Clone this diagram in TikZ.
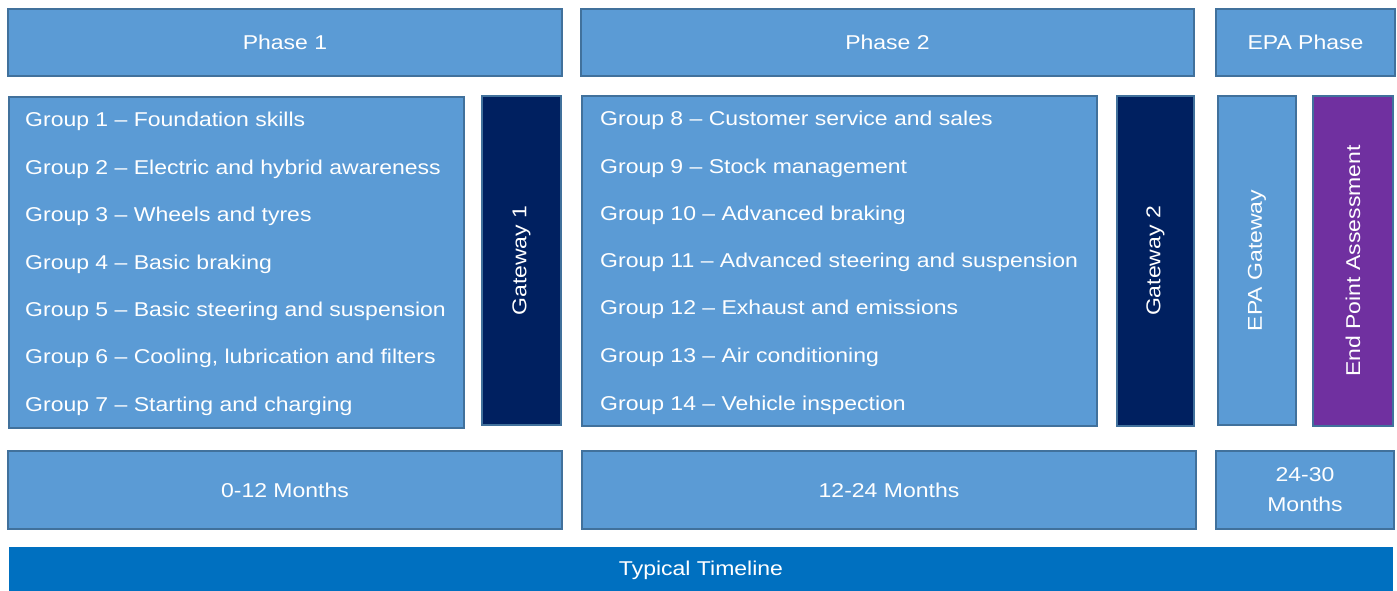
\documentclass[tikz,border=0pt]{standalone}
\usepackage{fontspec}
\setmainfont[FakeStretch=1.15]{Liberation Sans}
\definecolor{midblue}{HTML}{5B9BD5}
\definecolor{edgeblue}{HTML}{41719C}
\definecolor{navy}{HTML}{002060}
\definecolor{plum}{HTML}{7030A0}
\definecolor{strongblue}{HTML}{0070C0}
\begin{document}
\begin{tikzpicture}[x=1pt,y=-1pt,
  txt/.style={text=white, font=\fontsize{20}{26}\selectfont},
  panel/.style={draw=edgeblue, line width=1.2pt, fill=midblue, txt,
    inner sep=0pt, align=center},
  gate/.style={panel, fill=navy},
  assess/.style={panel, fill=plum},
  timeline/.style={panel, draw=none, fill=strongblue},
  upright/.style={txt, rotate=90, inner sep=0pt},
  item/.style={txt, anchor=base west, inner sep=0pt}]
\useasboundingbox (0,0) rectangle (1397,591);
\begin{scope}
\clip (0,0) rectangle (1397,591);
% header row
\node[panel, minimum width=554, minimum height=67] (ph1) at (285,42.5) {Phase 1};
\node[panel, minimum width=613, minimum height=67] (ph2) at (887.5,42.5) {Phase 2};
\node[panel, minimum width=179, minimum height=67] (ph3) at (1305.5,42.5) {EPA Phase};
% group lists and gateways
\node[panel, minimum width=455, minimum height=331] (grpA) at (236.5,262.5) {};
\node[gate, minimum width=79, minimum height=329] (gw1) at (521.5,260.5) {};
\node[upright] (gw1t) at (gw1.center) {Gateway 1};
\node[panel, minimum width=515, minimum height=330] (grpB) at (839.5,261) {};
\node[gate, minimum width=77, minimum height=330] (gw2) at (1155.5,261) {};
\node[upright] (gw2t) at (gw2.center) {Gateway 2};
\node[panel, minimum width=78, minimum height=329] (epag) at (1257,260.5) {};
\node[upright] (epagt) at (epag.center) {EPA Gateway};
\node[assess, minimum width=80, minimum height=330] (epa) at (1353,261) {};
\node[upright] (epat) at (epa.center) {End Point Assessment};
% phase 1 groups
\node[item] (g1) at (25,127) {Group 1 – Foundation skills};
\node[item] (g2) at (25,175) {Group 2 – Electric and hybrid awareness};
\node[item] (g3) at (25,221) {Group 3 – Wheels and tyres};
\node[item] (g4) at (25,269) {Group 4 – Basic braking};
\node[item] (g5) at (25,316) {Group 5 – Basic steering and suspension};
\node[item] (g6) at (25,363) {Group 6 – Cooling, lubrication and filters};
\node[item] (g7) at (25,411) {Group 7 – Starting and charging};
% phase 2 groups
\node[item] (g8) at (600,125) {Group 8 – Customer service and sales};
\node[item] (g9) at (600,173) {Group 9 – Stock management};
\node[item] (g10) at (600,220) {Group 10 – Advanced braking};
\node[item] (g11) at (600,267) {Group 11 – Advanced steering and suspension};
\node[item] (g12) at (600,314) {Group 12 – Exhaust and emissions};
\node[item] (g13) at (600,362) {Group 13 – Air conditioning};
\node[item] (g14) at (600,410) {Group 14 – Vehicle inspection};
% durations
\node[panel, minimum width=554, minimum height=78] (d1) at (285,490) {0-12 Months};
\node[panel, minimum width=614, minimum height=78] (d2) at (889,490) {12-24 Months};
\node[panel, minimum width=178, minimum height=78,
  font=\fontsize{20}{30}\selectfont] (d3) at (1305,490) {24-30\\Months};
% timeline bar
\node[timeline, minimum width=1384, minimum height=48] (tl) at (701,571) {};
\node[txt] (tlt) at (701,570) {Typical Timeline};
\end{scope}
\end{tikzpicture}
\end{document}
